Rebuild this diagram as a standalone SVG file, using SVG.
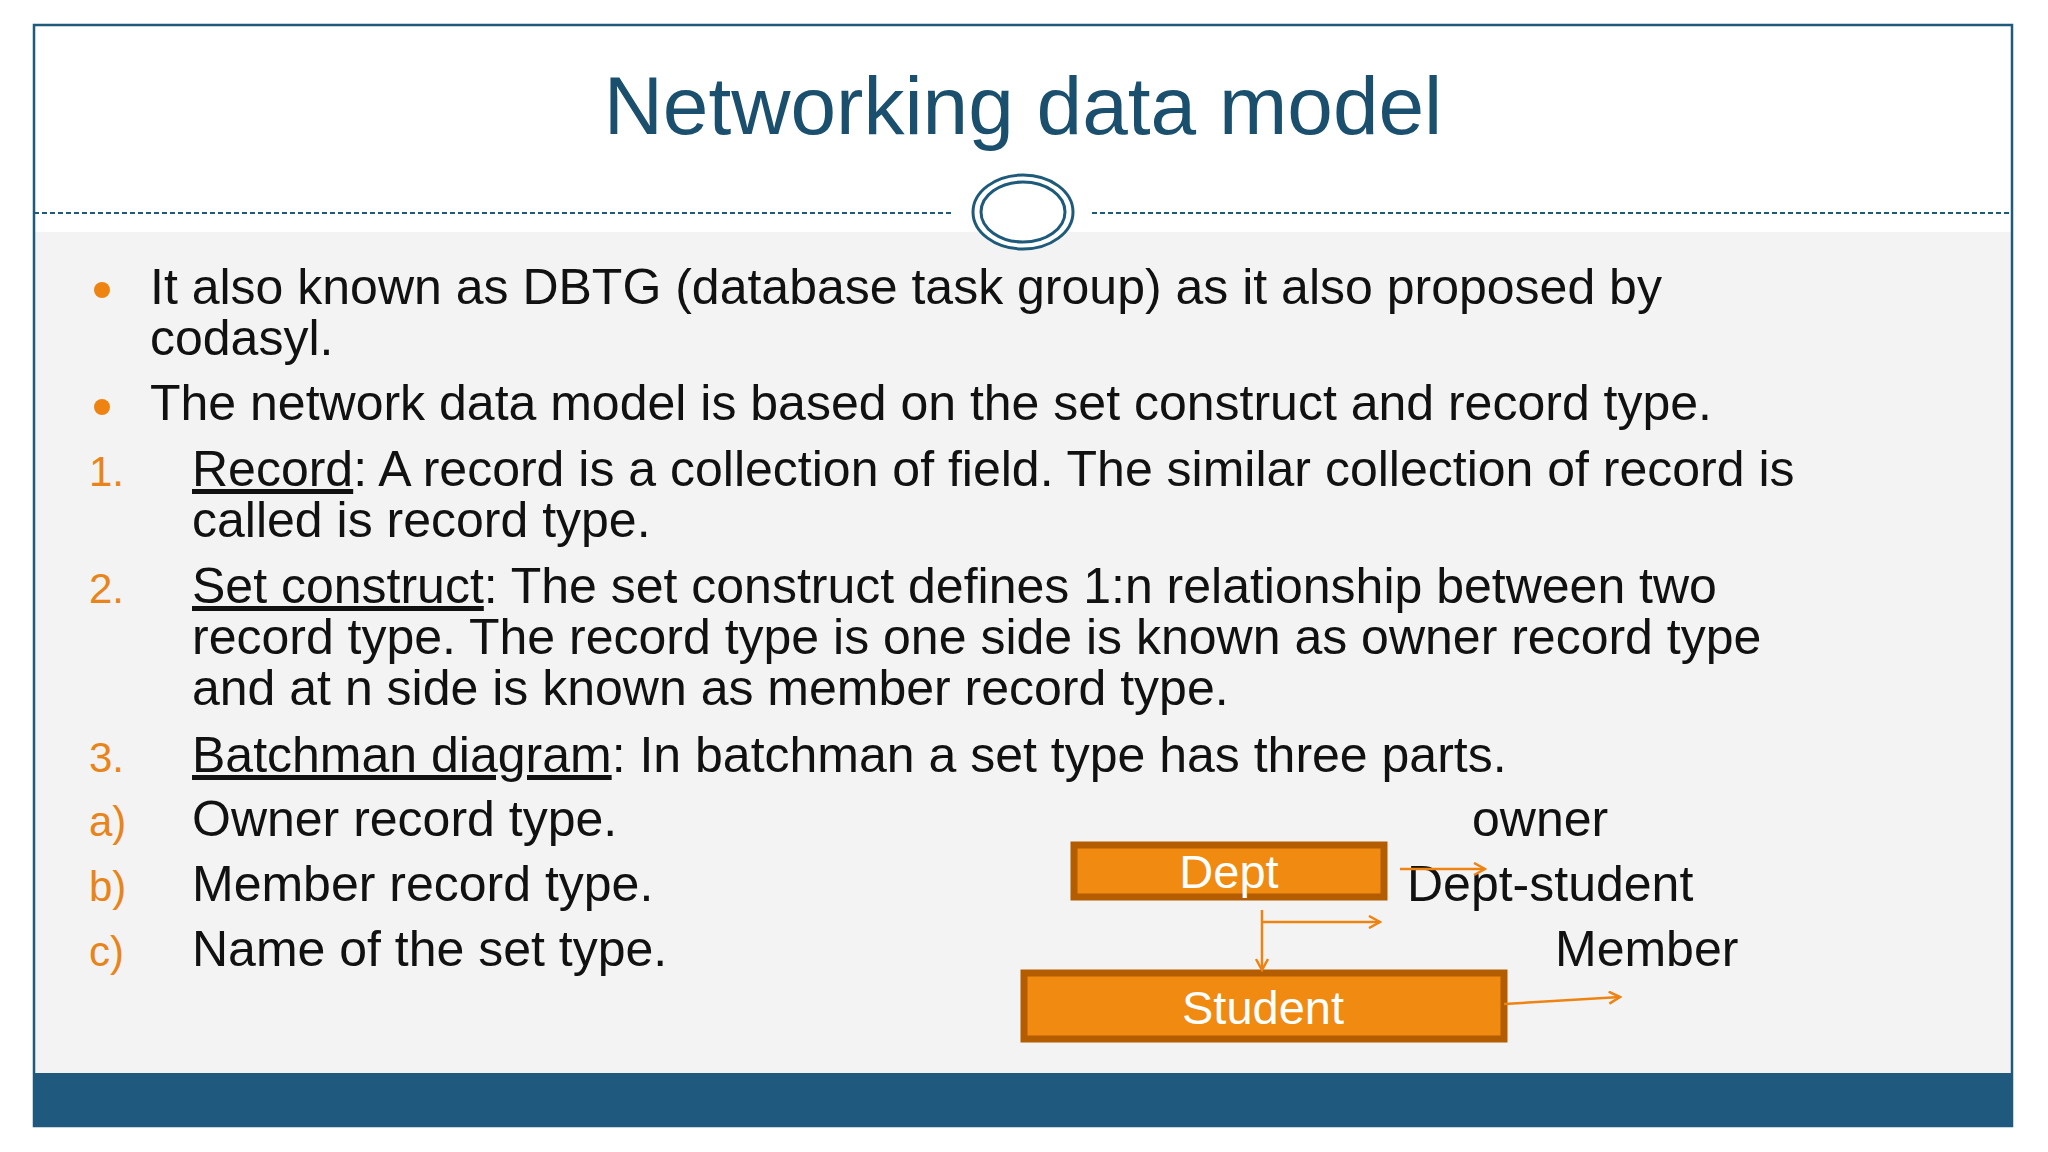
<svg xmlns="http://www.w3.org/2000/svg" width="2048" height="1152" viewBox="0 0 2048 1152">
<defs>
<style>
.t{font-family:"Liberation Sans",Arial,sans-serif;font-size:50px;fill:#111}
.n{font-family:"Liberation Sans",Arial,sans-serif;font-size:42px;fill:#e8841a}
.b{fill:#f08a10;stroke:#b35c00;stroke-width:7}
.bt{font-family:"Liberation Sans",Arial,sans-serif;font-size:47px;fill:#fff;text-anchor:middle}
.c{stroke:#ee8312;stroke-width:2.5;fill:none}
</style>
<marker id="a" markerWidth="14" markerHeight="14" refX="12" refY="7" orient="auto" markerUnits="userSpaceOnUse"><path d="M1,1 L12,7 L1,13" fill="none" stroke="#ee8312" stroke-width="2.5"/></marker>
</defs>
<rect width="2048" height="1152" fill="#fff"/>
<rect x="34" y="232" width="1978" height="841" fill="#f3f3f3"/>
<rect x="34" y="25" width="1978" height="1101" fill="none" stroke="#1e5a7a" stroke-width="2.5"/>
<rect x="33" y="1073" width="1980" height="53" fill="#1f5a7e"/>
<line x1="34" y1="213" x2="953" y2="213" stroke="#1e5a7a" stroke-width="2" stroke-dasharray="5,3"/>
<line x1="1092" y1="213" x2="2012" y2="213" stroke="#1e5a7a" stroke-width="2" stroke-dasharray="5,3"/>
<ellipse cx="1023" cy="212" rx="50" ry="37" fill="#fff" stroke="#1e5a7a" stroke-width="3"/>
<ellipse cx="1023" cy="212" rx="42" ry="30" fill="#fff" stroke="#1e5a7a" stroke-width="3"/>
<text x="1023" y="134" text-anchor="middle" font-family="Liberation Sans,Arial,sans-serif" font-size="82" fill="#1b4f6e">Networking data model</text>
<circle cx="102" cy="290" r="8" fill="#ee8312"/>
<circle cx="102" cy="407" r="8" fill="#ee8312"/>
<text class="t" x="150" y="304">It also known as DBTG (database task group) as it also proposed by</text>
<text class="t" x="150" y="355">codasyl.</text>
<text class="t" x="150" y="420">The network data model is based on the set construct and record type.</text>
<text class="n" x="89" y="486">1.</text>
<text class="t" x="192" y="486"><tspan text-decoration="underline">Record</tspan>: A record is a collection of field. The similar collection of record is</text>
<text class="t" x="192" y="537">called is record type.</text>
<text class="n" x="89" y="603">2.</text>
<text class="t" x="192" y="603"><tspan text-decoration="underline">Set construct</tspan>: The set construct defines 1:n relationship between two</text>
<text class="t" x="192" y="654">record type. The record type is one side is known as owner record type</text>
<text class="t" x="192" y="705">and at n side is known as member record type.</text>
<text class="n" x="89" y="772">3.</text>
<text class="t" x="192" y="772"><tspan text-decoration="underline">Batchman diagram</tspan>: In batchman a set type has three parts.</text>
<text class="n" x="89" y="836">a)</text>
<text class="t" x="192" y="836">Owner record type.</text>
<text class="n" x="89" y="901">b)</text>
<text class="t" x="192" y="901">Member record type.</text>
<text class="n" x="89" y="966">c)</text>
<text class="t" x="192" y="966">Name of the set type.</text>
<g id="dept"><rect class="b" x="1074" y="845" width="310" height="52"/><text class="bt" x="1229" y="888">Dept</text></g>
<g id="student"><rect class="b" x="1024" y="973" width="480" height="66"/><text class="bt" x="1263" y="1024">Student</text></g>
<g id="labels">
<text class="t" x="1472" y="836">owner</text>
<text class="t" x="1407" y="901">Dept-student</text>
<text class="t" x="1555" y="966">Member</text>
</g>
<g id="connectors">
<line class="c" x1="1400" y1="869" x2="1485" y2="869" marker-end="url(#a)"/>
<line class="c" x1="1262" y1="910" x2="1262" y2="970" marker-end="url(#a)"/>
<line class="c" x1="1262" y1="922" x2="1380" y2="922" marker-end="url(#a)"/>
<line class="c" x1="1504" y1="1004" x2="1620" y2="997" marker-end="url(#a)"/>
</g>
</svg>
